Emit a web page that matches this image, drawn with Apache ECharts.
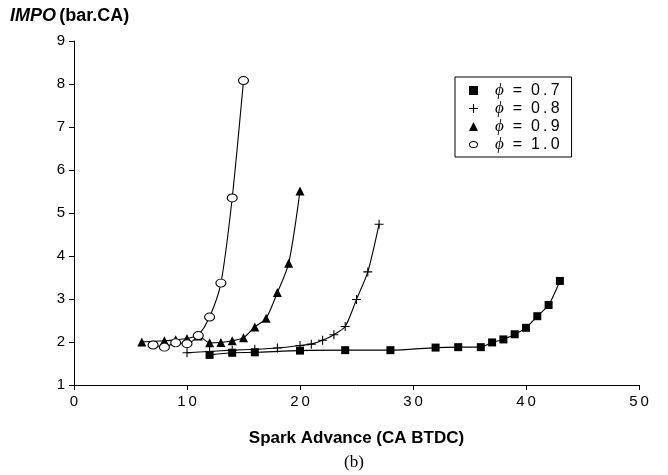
<!DOCTYPE html>
<html>
<head>
<meta charset="utf-8">
<script src="https://cdn.jsdelivr.net/npm/echarts@6/dist/echarts.min.js"></script>
<style>
  html, body { margin: 0; padding: 0; background: #fff; }
  #chart { width: 668px; height: 475px; }
</style>
</head>
<body>
<div id="chart"></div>
<script>
// Indicated mean pressure vs spark advance for four equivalence ratios
const phi07 = [[12,1.70],[14,1.75],[16,1.76],[20,1.80],[24,1.81],[28,1.81],[32,1.87],[34,1.88],[36,1.88],[37,1.99],[38,2.06],[39,2.18],[40,2.33],[41,2.60],[42,2.86],[43,3.42]];
const phi08 = [[10,1.75],[12,1.78],[14,1.81],[16,1.83],[18,1.86],[20,1.92],[21,1.95],[22,2.04],[23,2.17],[24,2.36],[25,2.99],[26,3.63],[27,4.74]];
const phi09 = [[6,2.00],[8,2.03],[9,2.05],[10,2.08],[11,2.14],[12,1.98],[13,1.99],[14,2.03],[15,2.10],[16,2.35],[17,2.55],[18,3.15],[19,3.83],[20,5.51]];
const phi10 = [[7,1.93],[8,1.88],[9,1.98],[10,1.96],[11,2.15],[12,2.58],[13,3.37],[14,5.35],[15,8.08]];

const seriesNames = ['ϕ = 0.7', 'ϕ = 0.8', 'ϕ = 0.9', 'ϕ = 1.0'];
const xTicks = [0, 10, 20, 30, 40, 50];
const yTicks = [1, 2, 3, 4, 5, 6, 7, 8, 9];

const plusPath = 'path://M4.4,0h1.2v4.4h4.4v1.2h-4.4v4.4h-1.2v-4.4h-4.4v-1.2h4.4z';
// open ellipse: outer and inner contours wound in opposite directions
const ringPath = 'path://M0,4a5,4 0 1,0 10,0a5,4 0 1,0 -10,0zM1.1,4a3.9,2.9 0 1,1 7.8,0a3.9,2.9 0 1,1 -7.8,0z';
const FONT = 'Liberation Sans, Arial, sans-serif';

function spaced(v) {
  return String(v).split('').join('\u2009');
}

const chart = echarts.init(document.getElementById('chart'), null, { renderer: 'canvas' });

function lineSeries(name, data, symbol, size, filled) {
  return {
    name: name,
    type: 'line',
    data: data,
    smooth: 0.25,
    symbol: symbol,
    symbolSize: size,
    showAllSymbol: true,
    lineStyle: { color: '#000', width: 1.1 },
    itemStyle: filled
      ? { color: '#000', borderColor: '#000', borderWidth: 0 }
      : { color: '#fff', borderColor: '#000', borderWidth: 1 },
    emphasis: { disabled: true },
    z: 3
  };
}

chart.setOption({
  animation: false,
  backgroundColor: '#fff',
  grid: { left: 74, right: 29, top: 41, bottom: 90, containLabel: false },
  xAxis: {
    type: 'value',
    min: xTicks[0],
    max: xTicks[xTicks.length - 1],
    interval: 10,
    axisLine: { show: true, onZero: false, lineStyle: { color: '#000', width: 1 } },
    axisTick: { show: true, inside: false, length: 5, lineStyle: { color: '#000' } },
    splitLine: { show: false },
    axisLabel: {
      color: '#000', fontSize: 15, fontFamily: FONT, margin: 9,
      formatter: v => spaced(v)
    },
    name: 'Spark Advance (CA BTDC)',
    nameLocation: 'middle',
    nameGap: 45,
    nameTextStyle: { color: '#000', fontSize: 17, fontWeight: 'bold', fontFamily: FONT }
  },
  yAxis: {
    type: 'value',
    min: yTicks[0],
    max: yTicks[yTicks.length - 1],
    interval: 1,
    axisLine: { show: true, onZero: false, lineStyle: { color: '#000', width: 1 } },
    axisTick: { show: true, inside: false, length: 5, lineStyle: { color: '#000' } },
    splitLine: { show: false },
    axisLabel: { color: '#000', fontSize: 15, fontFamily: FONT, margin: 9 }
  },
  legend: {
    orient: 'vertical',
    left: 455,
    top: 77,
    padding: [5, 12, 4, 14],
    itemGap: 1,
    itemWidth: 9,
    itemHeight: 9,
    borderColor: '#000',
    borderWidth: 1,
    backgroundColor: '#fff',
    selectedMode: false,
    data: [
      { name: seriesNames[0], icon: 'rect', itemStyle: { color: '#000', borderWidth: 0 } },
      { name: seriesNames[1], icon: plusPath, itemStyle: { color: '#000', borderWidth: 0 } },
      { name: seriesNames[2], icon: 'triangle', itemStyle: { color: '#000', borderWidth: 0 } },
      { name: seriesNames[3], icon: ringPath, itemStyle: { color: '#000', borderWidth: 0 } }
    ],
    formatter: name => '{p|ϕ}{t|  =  ' + spaced(name.slice(4)) + '}',
    textStyle: {
      padding: [0, 0, 0, 12],
      lineHeight: 17,
      rich: {
        p: { fontFamily: 'Liberation Serif, Times New Roman, serif', fontStyle: 'italic', fontSize: 17, color: '#000', lineHeight: 17 },
        t: { fontFamily: FONT, fontSize: 16, color: '#000', lineHeight: 17 }
      }
    }
  },
  graphic: [
    {
      type: 'text',
      left: 10,
      top: 7,
      style: {
        text: '{a|IMPO} {b|(bar.CA)}',
        rich: {
          a: { fontFamily: FONT, fontSize: 18, fontWeight: 'bold', fontStyle: 'italic', fill: '#000' },
          b: { fontFamily: FONT, fontSize: 18, fontWeight: 'bold', fill: '#000' }
        }
      }
    },
    {
      type: 'text',
      left: 344,
      top: 454,
      style: {
        text: '(b)',
        font: '17px "Liberation Serif", "Times New Roman", serif',
        fill: '#000'
      }
    }
  ],
  series: [
    lineSeries(seriesNames[0], phi07, 'rect', 8, true),
    lineSeries(seriesNames[1], phi08, plusPath, 9, true),
    lineSeries(seriesNames[2], phi09, 'triangle', 9, true),
    lineSeries(seriesNames[3], phi10, 'circle', [10, 8], false)
  ]
});
</script>
</body>
</html>
